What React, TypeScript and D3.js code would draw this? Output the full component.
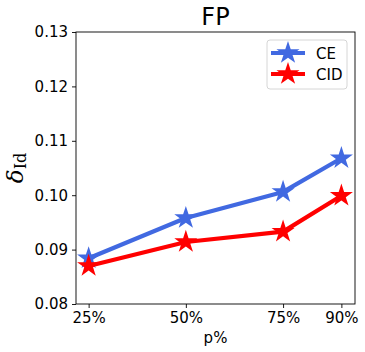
import * as d3 from "d3";
import { useEffect, useRef } from "react";

const pcts = [25, 50, 75, 90];
const tickLabels = ["25%", "50%", "75%", "90%"];
const ceValues = [0.0884, 0.0958, 0.1006, 0.1068];
const cidValues = [0.087, 0.0914, 0.0933, 0.0999];
const yTicks = [0.08, 0.09, 0.1, 0.11, 0.12, 0.13];

const series = [
  { name: "CE", color: "#4169e1", values: ceValues },
  { name: "CID", color: "#ff0000", values: cidValues },
];

const App = () => {
  const svgRef = useRef<SVGSVGElement | null>(null);

  useEffect(() => {
    if (!svgRef.current) return;
    const width = 365;
    const height = 352;
    const margin = { top: 32, right: 10, bottom: 48, left: 76 };
    const font = "DejaVu Sans, sans-serif";

    const x = d3
      .scaleLinear()
      .domain([21.75, 93.5])
      .range([margin.left, width - margin.right]);
    const y = d3
      .scaleLinear()
      .domain([0.08, 0.13])
      .range([height - margin.bottom, margin.top]);

    const svg = d3.select(svgRef.current);
    svg.selectAll("*").remove();

    // axes
    const xAxis = svg
      .append("g")
      .attr("transform", `translate(0,${height - margin.bottom})`)
      .call(
        d3
          .axisBottom(x)
          .tickValues(pcts)
          .tickFormat((_, i) => tickLabels[i])
          .tickSizeOuter(0)
          .tickSize(4)
          .tickPadding(4)
      );
    const yAxis = svg
      .append("g")
      .attr("transform", `translate(${margin.left},0)`)
      .call(
        d3
          .axisLeft(y)
          .tickValues(yTicks)
          .tickFormat(d3.format(".2f"))
          .tickSizeOuter(0)
          .tickSize(4)
          .tickPadding(4)
      );
    [xAxis, yAxis].forEach((a) => {
      a.select(".domain").remove();
      a.selectAll("line").attr("stroke", "#000").attr("stroke-width", 0.9);
      a.selectAll("text")
        .attr("font-family", font)
        .attr("font-size", 15)
        .attr("fill", "#000");
    });

    svg
      .append("rect")
      .attr("x", margin.left)
      .attr("y", margin.top)
      .attr("width", width - margin.left - margin.right)
      .attr("height", height - margin.top - margin.bottom)
      .attr("fill", "none")
      .attr("stroke", "#000")
      .attr("stroke-width", 0.9);

    // lines + markers
    const star = d3.symbol().type(d3.symbolStar).size(165);
    const line = d3
      .line<number>()
      .x((_, i) => x(pcts[i]))
      .y((d) => y(d));

    series.forEach((s) => {
      svg
        .append("path")
        .datum(s.values)
        .attr("d", line)
        .attr("fill", "none")
        .attr("stroke", s.color)
        .attr("stroke-width", 4.2)
        .attr("stroke-linejoin", "round");
      svg
        .append("g")
        .selectAll("path")
        .data(s.values)
        .join("path")
        .attr("d", star)
        .attr("transform", (d, i) => `translate(${x(pcts[i])},${y(d)})`)
        .attr("fill", s.color);
    });

    // title
    svg
      .append("text")
      .attr("x", (margin.left + width - margin.right) / 2)
      .attr("y", 25)
      .attr("text-anchor", "middle")
      .attr("font-family", font)
      .attr("font-size", 24)
      .text("FP");

    // x label
    svg
      .append("text")
      .attr("x", (margin.left + width - margin.right) / 2)
      .attr("y", 343)
      .attr("text-anchor", "middle")
      .attr("font-family", font)
      .attr("font-size", 15)
      .text("p%");

    // y label
    const yl = svg
      .append("text")
      .attr("transform", `translate(23,${(margin.top + height - margin.bottom) / 2}) rotate(-90)`)
      .attr("text-anchor", "middle")
      .attr("font-family", "DejaVu Serif, serif")
      .attr("font-size", 23);
    yl.append("tspan").attr("font-style", "italic").text("δ");
    yl.append("tspan").attr("font-size", 16).attr("dy", 3).text("Id");

    // legend
    const lg = svg.append("g").attr("transform", "translate(267,40)");
    lg.append("rect")
      .attr("width", 80)
      .attr("height", 49)
      .attr("rx", 3)
      .attr("fill", "#fff")
      .attr("fill-opacity", 0.8)
      .attr("stroke", "#ccc")
      .attr("stroke-width", 0.8);
    series.forEach((s, i) => {
      const g = lg.append("g").attr("transform", `translate(0,${13 + i * 21})`);
      g.append("line")
        .attr("x1", 4)
        .attr("x2", 38)
        .attr("stroke", s.color)
        .attr("stroke-width", 4.2);
      g.append("path")
        .attr("d", star)
        .attr("transform", "translate(21,0)")
        .attr("fill", s.color);
      g.append("text")
        .attr("x", 49)
        .attr("y", 5.5)
        .attr("font-family", font)
        .attr("font-size", 15)
        .text(s.name);
    });
  }, []);

  return (
    <svg
      ref={svgRef}
      width={365}
      height={352}
      style={{ position: "absolute", top: 0, left: 0, background: "#fff" }}
    ></svg>
  );
};

export default App;
